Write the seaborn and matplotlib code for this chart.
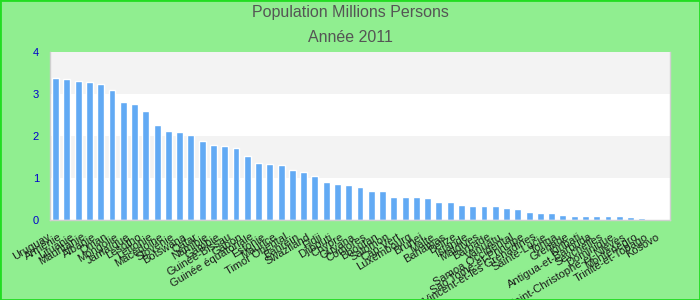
import matplotlib
matplotlib.use("Agg")
import matplotlib.pyplot as plt
import matplotlib.transforms as mtransforms
import seaborn as sns
import numpy as np
import pandas as pd

countries = ["Uruguay", "Arménie", "Lituanie", "Mauritanie", "Albanie", "Oman", "Mongolie",
             "Jamaïque", "Lesotho", "Lettonie", "Macédoine", "Slovénie", "Botswana", "Qatar",
             "Namibie", "Gambie", "Guinée-Bissau", "Gabon", "Guinée équatoriale", "Estonie",
             "Maurice", "Timor Oriental", "Bahreïn", "Swaziland", "Fidji", "Djibouti", "Chypre",
             "Guyana", "Comores", "Bhoutan", "Salomon", "Cap-Vert", "Luxembourg", "Brunei",
             "Malte", "Bahamas", "Belize", "Islande", "Maldives", "Barbade", "Vanuatu",
             "Samoa Occidental", "Sao Tomé-et-Principe", "Saint-Vincent-et-les Grenadines",
             "Sainte-Lucie", "Tonga", "Grenade", "Kiribati", "Antigua-et-Barbuda", "Seychelles",
             "Dominique", "Saint-Christophe-et-Niévès", "Monténégro", "Trinité-et-Tobago", "Kosovo"]
population = [3.38, 3.36, 3.31, 3.29, 3.24, 3.10, 2.81, 2.76, 2.60, 2.26, 2.12, 2.10, 2.02, 1.88,
              1.79, 1.76, 1.71, 1.52, 1.36, 1.33, 1.31, 1.19, 1.14, 1.05, 0.90, 0.86, 0.83, 0.79,
              0.69, 0.69, 0.55, 0.55, 0.55, 0.52, 0.43, 0.43, 0.36, 0.33, 0.33, 0.33, 0.29, 0.26,
              0.19, 0.17, 0.17, 0.12, 0.10, 0.10, 0.10, 0.10, 0.10, 0.08, 0.05, np.nan, np.nan]
title_lines = ["Population Millions Persons", "Année 2011"]
y_ticks = [0, 1, 2, 3, 4]

df = pd.DataFrame({"pays": countries, "pop": population})

sns.set_theme(style="white")
plt.rcParams["font.family"] = ["Liberation Sans", "DejaVu Sans"]

fig = plt.figure(figsize=(7, 3), dpi=100, facecolor="#90ee90")
fig.patches.append(plt.Rectangle((0, 0), 1, 1, transform=fig.transFigure, fill=False,
                                 edgecolor="#22dd22", linewidth=2, zorder=10))
ax = fig.add_axes([50 / 700, 80 / 300, 620 / 700, 168 / 300])
ax.set_facecolor("white")

for lo in range(0, 4):
    ax.axhspan(lo, lo + 1, color="#f3f3f3" if lo % 2 == 1 else "white", zorder=0, lw=0)

sns.barplot(data=df, x="pays", y="pop", order=countries, color="#62aaf4", width=0.62,
            saturation=1, ax=ax, zorder=2)

ax.set_ylim(0, 4)
ax.set_xlim(-0.5, len(countries) - 0.5)
ax.set_yticks(y_ticks)
ax.set_yticklabels([str(t) for t in y_ticks], color="#0000cc", fontsize=8)
ax.tick_params(axis="y", length=0, pad=8)
ax.tick_params(axis="x", length=0, pad=7)
ax.set_xticks(range(len(countries)))
ax.set_xticklabels(countries, rotation=31, ha="right", va="top", rotation_mode="anchor",
                   fontsize=8, color="#1a1a1a")
shift = mtransforms.ScaledTranslation(-0.08, -0.02, fig.dpi_scale_trans)
for lab in ax.get_xticklabels():
    lab.set_transform(lab.get_transform() + shift)
ax.set_xlabel("")
ax.set_ylabel("")
for s in ax.spines.values():
    s.set_visible(True)
    s.set_color("#d0d0d0")
    s.set_linewidth(1)
ax.spines["top"].set_visible(False)

fig.text(0.5, 1 - 13 / 300, title_lines[0], ha="center", va="center", fontsize=11.5, color="#555555")
fig.text(0.5, 1 - 37 / 300, title_lines[1], ha="center", va="center", fontsize=11.5, color="#555555")

fig.savefig("out.png", dpi=100, facecolor=fig.get_facecolor())
